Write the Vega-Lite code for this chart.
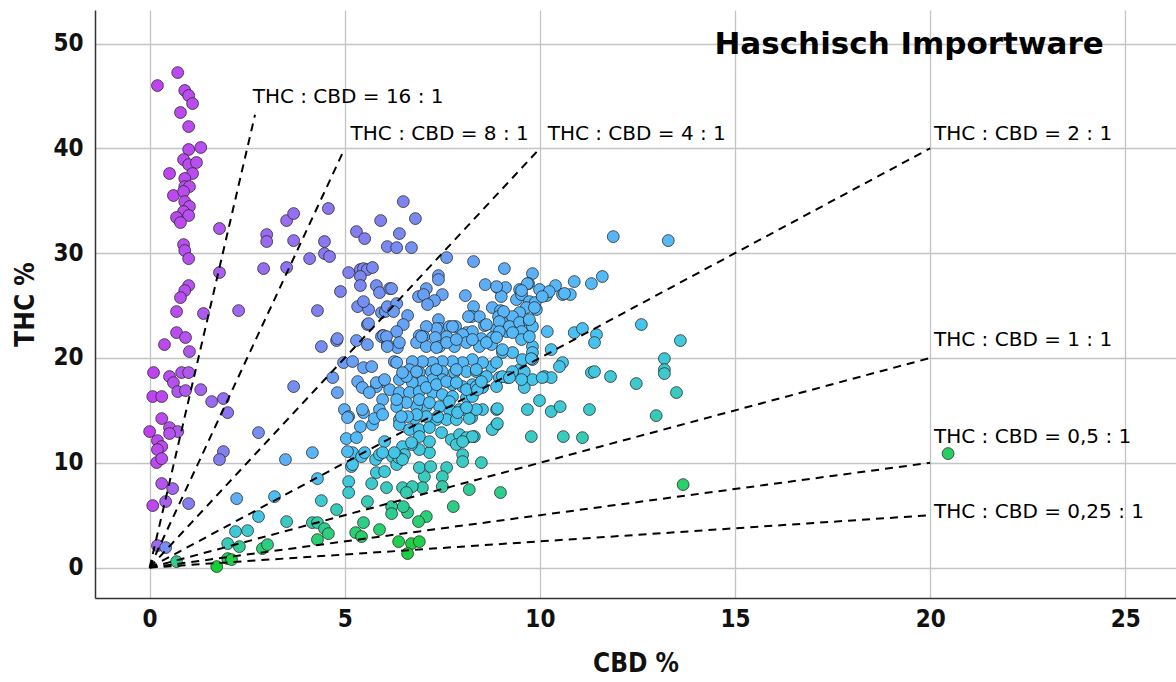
{
  "$schema": "https://vega.github.io/schema/vega-lite/v6.json",
  "width": 1081,
  "height": 588,
  "autosize": {"type": "none"},
  "padding": {"left": 95, "top": 10, "right": 0, "bottom": 84},
  "background": "white",
  "config": {
    "view": {"stroke": null},
    "axis": {
      "grid": true,
      "gridColor": "#c4c4c4",
      "gridWidth": 1.3,
      "domainColor": "#333333",
      "domainWidth": 1.5,
      "ticks": false,
      "labelFont": "DejaVu Sans Condensed, DejaVu Sans, sans-serif",
      "labelFontSize": 24,
      "labelFontWeight": "bold",
      "labelColor": "#111111",
      "titleFont": "DejaVu Sans Condensed, DejaVu Sans, sans-serif",
      "titleFontSize": 26,
      "titleFontWeight": "bold",
      "titleColor": "#111111"
    },
    "axisX": {"labelPadding": 9, "titlePadding": 19},
    "axisY": {"labelPadding": 12, "titlePadding": 14}
  },
  "datasets": {
    "pts": [
      {"CBD":0.72,"THC":47.23},{"CBD":0.20,"THC":45.99},{"CBD":0.90,"THC":45.52},{"CBD":1.00,"THC":45.04},{"CBD":1.10,"THC":44.27},
      {"CBD":0.79,"THC":43.42},{"CBD":1.00,"THC":42.08},{"CBD":1.00,"THC":39.89},{"CBD":1.31,"THC":40.08},{"CBD":0.87,"THC":38.93},
      {"CBD":1.00,"THC":38.45},{"CBD":1.20,"THC":38.65},{"CBD":0.51,"THC":37.60},{"CBD":1.10,"THC":37.60},{"CBD":0.90,"THC":37.12},
      {"CBD":0.90,"THC":36.35},{"CBD":1.02,"THC":36.35},{"CBD":0.61,"THC":35.50},{"CBD":0.87,"THC":35.88},{"CBD":0.90,"THC":34.92},
      {"CBD":1.02,"THC":34.45},{"CBD":0.87,"THC":33.97},{"CBD":1.00,"THC":33.59},{"CBD":0.69,"THC":33.40},{"CBD":0.79,"THC":32.92},
      {"CBD":0.87,"THC":30.82},{"CBD":0.90,"THC":30.25},{"CBD":1.00,"THC":29.48},{"CBD":1.00,"THC":26.91},{"CBD":0.90,"THC":26.43},
      {"CBD":0.79,"THC":25.76},{"CBD":0.69,"THC":24.43},{"CBD":1.38,"THC":24.24},{"CBD":0.69,"THC":22.42},{"CBD":0.92,"THC":21.95},
      {"CBD":0.38,"THC":21.28},{"CBD":1.02,"THC":20.61},{"CBD":0.10,"THC":18.61},{"CBD":0.51,"THC":18.23},{"CBD":0.61,"THC":17.65},
      {"CBD":0.82,"THC":18.61},{"CBD":1.00,"THC":18.61},{"CBD":0.72,"THC":16.79},{"CBD":0.92,"THC":16.89},{"CBD":1.31,"THC":16.98},
      {"CBD":0.08,"THC":16.32},{"CBD":0.31,"THC":16.32},{"CBD":1.59,"THC":15.84},{"CBD":1.89,"THC":16.13},{"CBD":2.00,"THC":14.79},
      {"CBD":0.31,"THC":14.22},{"CBD":0.51,"THC":13.36},{"CBD":0.72,"THC":12.98},{"CBD":0.51,"THC":12.79},{"CBD":0.00,"THC":12.98},
      {"CBD":0.20,"THC":12.12},{"CBD":0.31,"THC":11.55},{"CBD":0.20,"THC":11.26},{"CBD":0.18,"THC":10.02},{"CBD":0.31,"THC":10.40},
      {"CBD":2.79,"THC":12.88},{"CBD":3.69,"THC":17.27},{"CBD":1.89,"THC":11.07},{"CBD":1.79,"THC":10.31},{"CBD":0.31,"THC":8.02},
      {"CBD":0.59,"THC":7.54},{"CBD":0.41,"THC":6.30},{"CBD":0.08,"THC":5.92},{"CBD":1.00,"THC":6.11},{"CBD":2.23,"THC":6.58},
      {"CBD":3.20,"THC":6.77},{"CBD":3.48,"THC":10.31},{"CBD":4.17,"THC":10.97},{"CBD":4.30,"THC":8.49},{"CBD":0.20,"THC":2.10},
      {"CBD":0.41,"THC":1.91},{"CBD":0.69,"THC":0.57},{"CBD":1.72,"THC":0.10},{"CBD":2.00,"THC":0.86},{"CBD":2.10,"THC":0.76},
      {"CBD":2.00,"THC":2.29},{"CBD":2.30,"THC":2.00},{"CBD":2.89,"THC":1.81},{"CBD":3.02,"THC":2.19},{"CBD":2.20,"THC":3.44},
      {"CBD":2.51,"THC":3.53},{"CBD":2.79,"THC":4.87},{"CBD":3.51,"THC":4.39},{"CBD":4.17,"THC":4.29},{"CBD":4.30,"THC":4.29},
      {"CBD":4.48,"THC":3.72},{"CBD":4.58,"THC":3.24},{"CBD":4.30,"THC":2.67},{"CBD":4.79,"THC":5.53},{"CBD":4.40,"THC":6.39},
      {"CBD":5.28,"THC":3.34},{"CBD":5.43,"THC":2.96},{"CBD":5.48,"THC":4.29},{"CBD":5.89,"THC":3.63},{"CBD":5.58,"THC":6.30},
      {"CBD":5.10,"THC":8.21},{"CBD":5.10,"THC":7.16},{"CBD":5.69,"THC":8.02},{"CBD":5.17,"THC":9.64},{"CBD":5.20,"THC":10.97},
      {"CBD":5.07,"THC":11.07},{"CBD":5.43,"THC":10.59},{"CBD":5.79,"THC":10.31},{"CBD":5.89,"THC":10.78},{"CBD":5.81,"THC":9.06},
      {"CBD":6.02,"THC":9.16},{"CBD":4.97,"THC":19.56},{"CBD":5.20,"THC":19.66},{"CBD":5.48,"THC":19.08},{"CBD":5.69,"THC":19.18},
      {"CBD":4.69,"THC":18.13},{"CBD":4.81,"THC":16.70},{"CBD":4.99,"THC":15.08},{"CBD":5.10,"THC":14.41},{"CBD":5.48,"THC":14.79},
      {"CBD":5.40,"THC":13.45},{"CBD":5.71,"THC":13.64},{"CBD":5.04,"THC":12.31},{"CBD":6.02,"THC":12.02},{"CBD":4.40,"THC":21.09},
      {"CBD":4.79,"THC":21.66},{"CBD":5.30,"THC":21.66},{"CBD":5.58,"THC":21.28},{"CBD":5.97,"THC":22.14},{"CBD":6.09,"THC":21.28},
      {"CBD":1.79,"THC":32.35},{"CBD":1.79,"THC":28.15},{"CBD":2.28,"THC":24.52},{"CBD":3.00,"THC":31.77},{"CBD":3.00,"THC":31.11},
      {"CBD":3.51,"THC":33.11},{"CBD":3.69,"THC":33.78},{"CBD":3.69,"THC":31.20},{"CBD":4.58,"THC":34.26},{"CBD":4.48,"THC":31.11},
      {"CBD":4.10,"THC":29.48},{"CBD":4.48,"THC":29.96},{"CBD":4.61,"THC":29.68},{"CBD":2.92,"THC":28.53},{"CBD":3.51,"THC":28.63},
      {"CBD":4.30,"THC":24.52},{"CBD":5.30,"THC":32.06},{"CBD":5.51,"THC":31.39},{"CBD":5.92,"THC":33.11},{"CBD":6.09,"THC":30.63},
      {"CBD":5.10,"THC":28.15},{"CBD":4.89,"THC":26.34},{"CBD":5.40,"THC":28.44},{"CBD":5.48,"THC":28.53},{"CBD":5.58,"THC":28.44},
      {"CBD":5.71,"THC":28.63},{"CBD":5.40,"THC":27.77},{"CBD":5.40,"THC":26.91},{"CBD":5.81,"THC":26.91},{"CBD":5.89,"THC":26.24},
      {"CBD":6.15,"THC":26.62},{"CBD":5.33,"THC":24.90},{"CBD":5.61,"THC":24.62},{"CBD":5.94,"THC":24.33},{"CBD":6.04,"THC":24.43},
      {"CBD":5.58,"THC":23.19},{"CBD":5.94,"THC":22.04},{"CBD":4.81,"THC":21.85},{"CBD":6.50,"THC":34.92},{"CBD":6.81,"THC":33.30},
      {"CBD":6.40,"THC":31.87},{"CBD":6.33,"THC":30.53},{"CBD":6.71,"THC":30.53},{"CBD":7.61,"THC":29.58},{"CBD":8.30,"THC":29.20},
      {"CBD":9.09,"THC":28.53},{"CBD":7.40,"THC":27.86},{"CBD":7.40,"THC":27.48},{"CBD":6.20,"THC":26.62},{"CBD":7.09,"THC":26.62},
      {"CBD":6.89,"THC":25.86},{"CBD":7.02,"THC":26.05},{"CBD":7.50,"THC":26.05},{"CBD":7.30,"THC":25.48},{"CBD":7.12,"THC":25.10},
      {"CBD":8.09,"THC":25.95},{"CBD":8.60,"THC":27.00},{"CBD":8.91,"THC":26.72},{"CBD":9.12,"THC":26.72},{"CBD":9.01,"THC":25.86},
      {"CBD":5.48,"THC":25.38},{"CBD":6.09,"THC":24.90},{"CBD":6.33,"THC":25.19},{"CBD":6.25,"THC":24.43},{"CBD":6.61,"THC":24.05},
      {"CBD":6.50,"THC":23.19},{"CBD":5.61,"THC":23.28},{"CBD":6.33,"THC":22.52},{"CBD":5.99,"THC":22.14},{"CBD":6.91,"THC":22.14},
      {"CBD":7.40,"THC":23.66},{"CBD":7.43,"THC":22.81},{"CBD":7.68,"THC":23.00},{"CBD":7.84,"THC":23.00},{"CBD":8.12,"THC":22.42},
      {"CBD":8.30,"THC":24.90},{"CBD":8.25,"THC":23.95},{"CBD":8.45,"THC":23.95},{"CBD":8.58,"THC":23.09},{"CBD":8.78,"THC":24.81},
      {"CBD":8.99,"THC":24.52},{"CBD":8.94,"THC":23.95},{"CBD":9.04,"THC":23.38},{"CBD":8.89,"THC":22.71},{"CBD":9.14,"THC":22.52},
      {"CBD":9.81,"THC":28.05},{"CBD":8.89,"THC":26.81},{"CBD":9.48,"THC":26.53},{"CBD":9.71,"THC":27.10},{"CBD":9.99,"THC":26.53},
      {"CBD":10.40,"THC":26.91},{"CBD":10.88,"THC":27.29},{"CBD":11.32,"THC":27.10},{"CBD":10.17,"THC":25.95},{"CBD":10.58,"THC":26.05},
      {"CBD":10.78,"THC":26.05},{"CBD":9.40,"THC":25.57},{"CBD":9.53,"THC":26.05},{"CBD":9.73,"THC":25.38},{"CBD":9.88,"THC":25.29},
      {"CBD":9.91,"THC":24.62},{"CBD":9.65,"THC":24.81},{"CBD":9.48,"THC":24.33},{"CBD":9.30,"THC":23.95},{"CBD":9.07,"THC":24.43},
      {"CBD":8.17,"THC":23.95},{"CBD":8.63,"THC":23.19},{"CBD":8.96,"THC":23.47},{"CBD":9.22,"THC":23.00},{"CBD":9.48,"THC":23.38},
      {"CBD":9.73,"THC":23.47},{"CBD":9.81,"THC":23.00},{"CBD":9.53,"THC":22.52},{"CBD":9.30,"THC":22.42},{"CBD":8.96,"THC":22.52},
      {"CBD":8.78,"THC":21.95},{"CBD":8.50,"THC":21.85},{"CBD":8.27,"THC":22.52},{"CBD":8.02,"THC":22.23},{"CBD":7.76,"THC":23.00},
      {"CBD":7.61,"THC":22.04},{"CBD":7.35,"THC":22.81},{"CBD":7.09,"THC":23.00},{"CBD":7.02,"THC":22.04},{"CBD":7.32,"THC":21.95},
      {"CBD":6.84,"THC":21.47},{"CBD":7.09,"THC":21.09},{"CBD":7.43,"THC":21.09},{"CBD":7.81,"THC":21.09},{"CBD":8.12,"THC":21.47},
      {"CBD":8.45,"THC":21.09},{"CBD":8.76,"THC":21.28},{"CBD":9.04,"THC":20.52},{"CBD":9.30,"THC":20.52},{"CBD":9.53,"THC":21.76},
      {"CBD":9.81,"THC":21.09},{"CBD":9.81,"THC":20.52},{"CBD":9.81,"THC":19.85},{"CBD":10.19,"THC":22.52},{"CBD":10.29,"THC":20.80},
      {"CBD":10.88,"THC":22.42},{"CBD":11.09,"THC":22.81},{"CBD":11.45,"THC":22.23},{"CBD":11.40,"THC":21.47},{"CBD":10.58,"THC":19.56},
      {"CBD":10.50,"THC":19.18},{"CBD":10.12,"THC":18.23},{"CBD":10.29,"THC":18.13},{"CBD":9.81,"THC":17.94},{"CBD":9.60,"THC":17.18},
      {"CBD":9.99,"THC":15.94},{"CBD":9.68,"THC":15.08},{"CBD":10.29,"THC":14.89},{"CBD":10.52,"THC":15.36},{"CBD":11.27,"THC":15.08},
      {"CBD":11.32,"THC":18.61},{"CBD":11.40,"THC":18.70},{"CBD":9.48,"THC":18.89},{"CBD":9.17,"THC":18.13},{"CBD":8.96,"THC":18.13},
      {"CBD":8.76,"THC":19.18},{"CBD":8.53,"THC":19.56},{"CBD":8.27,"THC":19.85},{"CBD":8.02,"THC":19.56},{"CBD":7.76,"THC":19.66},
      {"CBD":7.50,"THC":19.66},{"CBD":7.25,"THC":19.56},{"CBD":6.99,"THC":19.66},{"CBD":6.73,"THC":19.66},{"CBD":6.66,"THC":18.89},
      {"CBD":6.91,"THC":18.61},{"CBD":7.22,"THC":18.70},{"CBD":7.50,"THC":18.70},{"CBD":7.81,"THC":18.61},{"CBD":8.12,"THC":18.70},
      {"CBD":8.37,"THC":18.70},{"CBD":8.63,"THC":18.23},{"CBD":8.89,"THC":17.27},{"CBD":8.53,"THC":17.18},{"CBD":8.27,"THC":17.46},
      {"CBD":8.02,"THC":17.27},{"CBD":7.76,"THC":17.46},{"CBD":7.50,"THC":17.94},{"CBD":7.25,"THC":17.94},{"CBD":6.99,"THC":17.75},
      {"CBD":6.73,"THC":17.65},{"CBD":6.40,"THC":17.94},{"CBD":6.27,"THC":19.66},{"CBD":5.97,"THC":17.75},{"CBD":5.81,"THC":17.27},
      {"CBD":6.15,"THC":16.98},{"CBD":6.40,"THC":16.70},{"CBD":6.66,"THC":16.70},{"CBD":6.91,"THC":16.79},{"CBD":7.25,"THC":16.70},
      {"CBD":7.50,"THC":16.51},{"CBD":7.76,"THC":16.32},{"CBD":8.12,"THC":16.22},{"CBD":8.27,"THC":16.32},{"CBD":8.53,"THC":15.08},
      {"CBD":8.89,"THC":15.08},{"CBD":8.25,"THC":14.31},{"CBD":7.94,"THC":15.08},{"CBD":7.68,"THC":15.08},{"CBD":7.43,"THC":15.36},
      {"CBD":7.09,"THC":15.36},{"CBD":6.84,"THC":15.36},{"CBD":6.58,"THC":15.74},{"CBD":6.33,"THC":15.36},{"CBD":5.97,"THC":16.03},
      {"CBD":5.89,"THC":15.08},{"CBD":5.45,"THC":15.08},{"CBD":5.07,"THC":14.31},{"CBD":5.76,"THC":14.22},{"CBD":6.40,"THC":14.12},
      {"CBD":6.79,"THC":14.22},{"CBD":7.35,"THC":14.12},{"CBD":7.61,"THC":14.12},{"CBD":7.86,"THC":14.12},{"CBD":5.33,"THC":17.75},
      {"CBD":5.45,"THC":17.18},{"CBD":5.63,"THC":16.70},{"CBD":6.07,"THC":22.04},{"CBD":6.35,"THC":20.99},{"CBD":6.40,"THC":21.47},
      {"CBD":6.09,"THC":21.09},{"CBD":6.33,"THC":19.56},{"CBD":5.81,"THC":17.65},{"CBD":6.02,"THC":17.94},{"CBD":6.58,"THC":18.23},
      {"CBD":6.97,"THC":22.04},{"CBD":7.35,"THC":20.99},{"CBD":7.61,"THC":21.47},{"CBD":7.86,"THC":21.76},{"CBD":8.27,"THC":21.76},
      {"CBD":8.63,"THC":21.47},{"CBD":8.89,"THC":21.95},{"CBD":9.04,"THC":20.80},{"CBD":8.89,"THC":19.56},{"CBD":9.04,"THC":18.23},
      {"CBD":8.37,"THC":18.89},{"CBD":7.86,"THC":18.89},{"CBD":7.35,"THC":18.89},{"CBD":6.84,"THC":18.70},{"CBD":6.48,"THC":18.61},
      {"CBD":6.33,"THC":16.03},{"CBD":7.09,"THC":17.18},{"CBD":7.35,"THC":17.46},{"CBD":7.61,"THC":17.75},{"CBD":7.86,"THC":17.65},
      {"CBD":8.12,"THC":16.98},{"CBD":8.37,"THC":17.27},{"CBD":8.07,"THC":15.08},{"CBD":8.37,"THC":15.08},{"CBD":8.91,"THC":15.17},
      {"CBD":8.89,"THC":13.64},{"CBD":8.78,"THC":13.17},{"CBD":6.91,"THC":16.03},{"CBD":7.17,"THC":15.74},{"CBD":7.68,"THC":15.84},
      {"CBD":7.89,"THC":14.79},{"CBD":7.38,"THC":14.41},{"CBD":7.09,"THC":14.41},{"CBD":6.84,"THC":14.60},{"CBD":6.61,"THC":14.41},
      {"CBD":6.40,"THC":13.64},{"CBD":6.66,"THC":13.17},{"CBD":6.91,"THC":13.17},{"CBD":7.17,"THC":13.36},{"CBD":7.48,"THC":12.88},
      {"CBD":7.73,"THC":12.21},{"CBD":7.94,"THC":12.69},{"CBD":8.12,"THC":12.40},{"CBD":8.32,"THC":12.50},{"CBD":7.86,"THC":11.74},
      {"CBD":8.02,"THC":10.78},{"CBD":8.02,"THC":10.11},{"CBD":8.50,"THC":10.02},{"CBD":7.61,"THC":9.54},{"CBD":7.50,"THC":8.68},
      {"CBD":7.04,"THC":8.68},{"CBD":6.91,"THC":9.54},{"CBD":7.17,"THC":10.97},{"CBD":6.91,"THC":11.26},{"CBD":6.71,"THC":11.74},
      {"CBD":6.48,"THC":11.55},{"CBD":6.53,"THC":10.78},{"CBD":6.22,"THC":10.59},{"CBD":5.51,"THC":10.97},{"CBD":5.20,"THC":9.83},
      {"CBD":6.33,"THC":9.83},{"CBD":5.30,"THC":12.40},{"CBD":5.97,"THC":14.60},{"CBD":6.45,"THC":14.41},{"CBD":6.99,"THC":7.63},
      {"CBD":7.50,"THC":7.73},{"CBD":6.48,"THC":7.63},{"CBD":9.55,"THC":19.85},{"CBD":9.78,"THC":19.94},{"CBD":9.60,"THC":18.70},
      {"CBD":9.30,"THC":18.70},{"CBD":9.22,"THC":18.13},{"CBD":9.53,"THC":17.94},{"CBD":10.06,"THC":18.13},{"CBD":10.60,"THC":12.50},
      {"CBD":9.78,"THC":12.50},{"CBD":8.19,"THC":14.22},{"CBD":8.91,"THC":13.74},{"CBD":8.27,"THC":12.50},{"CBD":8.40,"THC":16.98},
      {"CBD":8.50,"THC":17.75},{"CBD":8.12,"THC":15.27},{"CBD":11.88,"THC":31.58},{"CBD":13.29,"THC":31.20},{"CBD":9.68,"THC":27.10},
      {"CBD":9.53,"THC":26.43},{"CBD":11.60,"THC":27.77},{"CBD":10.24,"THC":26.34},{"CBD":10.63,"THC":26.15},{"CBD":10.06,"THC":25.86},
      {"CBD":9.86,"THC":24.81},{"CBD":9.73,"THC":23.66},{"CBD":9.73,"THC":22.04},{"CBD":12.60,"THC":23.19},{"CBD":13.60,"THC":21.66},
      {"CBD":11.81,"THC":18.23},{"CBD":13.19,"THC":19.94},{"CBD":13.19,"THC":18.89},{"CBD":13.19,"THC":18.51},{"CBD":13.50,"THC":16.70},
      {"CBD":12.98,"THC":14.50},{"CBD":12.47,"THC":17.56},{"CBD":11.09,"THC":12.40},{"CBD":7.20,"THC":9.64},{"CBD":6.73,"THC":7.73},
      {"CBD":6.58,"THC":7.16},{"CBD":8.19,"THC":7.44},{"CBD":8.99,"THC":7.16},{"CBD":7.78,"THC":5.82},{"CBD":7.09,"THC":4.87},
      {"CBD":6.89,"THC":4.39},{"CBD":6.61,"THC":5.25},{"CBD":6.50,"THC":5.82},{"CBD":6.20,"THC":5.82},{"CBD":6.20,"THC":5.15},
      {"CBD":6.38,"THC":2.48},{"CBD":6.71,"THC":2.29},{"CBD":6.91,"THC":2.48},{"CBD":6.61,"THC":1.34},{"CBD":6.07,"THC":7.63},
      {"CBD":6.38,"THC":10.50},{"CBD":6.48,"THC":10.31},{"CBD":6.27,"THC":10.97},{"CBD":5.97,"THC":10.97},{"CBD":7.17,"THC":12.02},
      {"CBD":8.02,"THC":12.02},{"CBD":6.91,"THC":12.50},{"CBD":6.71,"THC":11.93},{"CBD":20.46,"THC":10.88},{"CBD":13.67,"THC":7.92}
    ],
    "refs": [
      {"label":"THC : CBD = 16 : 1","sx":0,"sy":0,"ex":2.7,"ey":43.2,"lx":2.64,"ly":44.9},
      {"label":"THC : CBD = 8 : 1","sx":0,"sy":0,"ex":4.95,"ey":39.6,"lx":5.15,"ly":41.4},
      {"label":"THC : CBD = 4 : 1","sx":0,"sy":0,"ex":10,"ey":40,"lx":10.2,"ly":41.4},
      {"label":"THC : CBD = 2 : 1","sx":0,"sy":0,"ex":20,"ey":40,"lx":20.1,"ly":41.4},
      {"label":"THC : CBD = 1 : 1","sx":0,"sy":0,"ex":20,"ey":20,"lx":20.1,"ly":21.7},
      {"label":"THC : CBD = 0,5 : 1","sx":0,"sy":0,"ex":20,"ey":10,"lx":20.1,"ly":12.5},
      {"label":"THC : CBD = 0,25 : 1","sx":0,"sy":0,"ex":20,"ey":5,"lx":20.1,"ly":5.3}
    ]
  },
  "layer": [
    {
      "data": {"name": "pts"},
      "transform": [{"calculate": "atan2(datum.THC, datum.CBD) * 180 / PI", "as": "angle"}],
      "mark": {"type": "circle", "size": 140, "opacity": 1, "stroke": "#2a2a2a", "strokeWidth": 0.8},
      "encoding": {
        "x": {"field": "CBD", "type": "quantitative", "title": "CBD %",
              "scale": {"domain": [-1.4, 26.3], "nice": false, "zero": false},
              "axis": {"values": [0, 5, 10, 15, 20, 25]}},
        "y": {"field": "THC", "type": "quantitative", "title": "THC %",
              "scale": {"domain": [-2.9, 53.2], "nice": false, "zero": false},
              "axis": {"values": [0, 10, 20, 30, 40, 50]}},
        "color": {"field": "angle", "type": "quantitative", "legend": null,
                  "scale": {"domain": [0, 20, 32, 42, 50, 58, 63, 68, 72, 76, 80, 83.5, 86, 88, 90],
                            "range": ["#10d030", "#20d048", "#28d070", "#30cc98", "#38ccbc", "#40c8dc", "#48c2f0", "#55b8f8", "#5eaef8", "#6c9af3", "#8080f0", "#9470f2", "#a860f0", "#b850f0", "#c040f0"],
                            "interpolate": "rgb"}}
      }
    },
    {
      "data": {"name": "refs"},
      "mark": {"type": "rule", "color": "#000000", "strokeWidth": 2, "strokeDash": [8, 6]},
      "encoding": {
        "x": {"field": "sx", "type": "quantitative", "title": "CBD %"},
        "y": {"field": "sy", "type": "quantitative", "title": "THC %"},
        "x2": {"field": "ex"},
        "y2": {"field": "ey"}
      }
    },
    {
      "data": {"name": "refs"},
      "mark": {"type": "text", "align": "left", "baseline": "middle", "font": "DejaVu Sans", "fontSize": 20, "color": "#000000"},
      "encoding": {
        "x": {"field": "lx", "type": "quantitative", "title": "CBD %"},
        "y": {"field": "ly", "type": "quantitative", "title": "THC %"},
        "text": {"field": "label"}
      }
    },
    {
      "data": {"values": [{"t": "Haschisch Importware", "tx": 24.45, "ty": 49.9}]},
      "mark": {"type": "text", "align": "right", "baseline": "middle", "font": "DejaVu Sans", "fontWeight": "bold", "fontSize": 31, "color": "#000000"},
      "encoding": {
        "x": {"field": "tx", "type": "quantitative", "title": "CBD %"},
        "y": {"field": "ty", "type": "quantitative", "title": "THC %"},
        "text": {"field": "t"}
      }
    }
  ]
}
